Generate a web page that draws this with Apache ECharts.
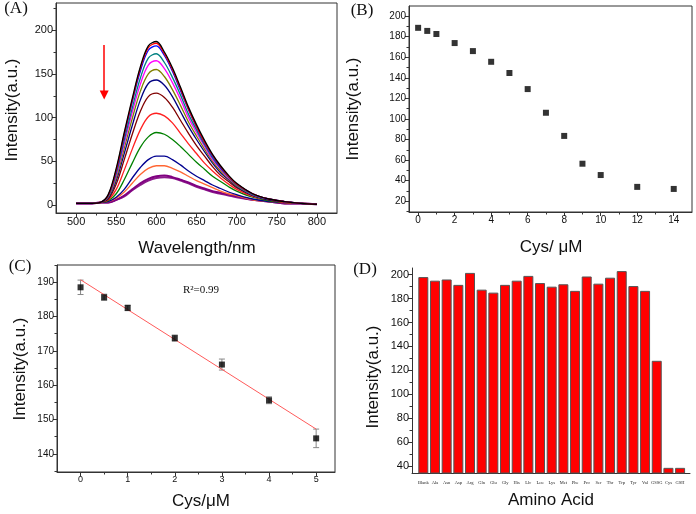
<!DOCTYPE html>
<html>
<head>
<meta charset="utf-8">
<script src="https://cdn.jsdelivr.net/npm/echarts@6/dist/echarts.min.js"></script>
<style>
  html, body { margin: 0; padding: 0; background: #fff; }
  #chart { width: 696px; height: 514px; }
</style>
</head>
<body>
<div id="chart"></div>
<script>
// (A) emission spectra, one array per Cys concentration
const wavelengths = [500, 520, 530, 540, 550, 560, 570, 580, 590, 600, 610, 620, 630, 640, 650, 660, 670, 680, 690, 700, 720, 740, 760, 780, 800];
const spectra = [
  [2, 2, 3, 12, 42, 83, 122, 158, 182, 187, 175, 157, 135, 112, 92, 74, 58, 45, 34, 25, 13, 7, 4, 2, 1],
  [2, 2, 3, 11, 40, 81, 120, 156, 180, 185, 173, 155, 133, 110, 90, 72, 57, 44, 33, 24, 13, 7, 4, 2, 1],
  [2, 2, 3, 11, 39, 79, 118, 153, 177, 182, 171, 153, 131, 109, 89, 71, 56, 43, 33, 24, 13, 7, 4, 2, 1],
  [2, 2, 3, 10, 36, 74, 111, 145, 168, 173, 163, 146, 126, 104, 86, 69, 54, 42, 32, 23, 12, 7, 4, 2, 1],
  [2, 2, 3, 10, 34, 70, 106, 138, 160, 165, 156, 140, 121, 100, 83, 67, 52, 41, 31, 23, 12, 7, 4, 2, 1],
  [2, 2, 3, 9, 31, 65, 99, 130, 150, 155, 147, 132, 114, 95, 79, 64, 50, 39, 30, 22, 12, 7, 4, 2, 1],
  [2, 2, 3, 8, 28, 59, 91, 120, 139, 143, 137, 124, 107, 90, 75, 61, 48, 37, 29, 21, 11, 6, 4, 2, 1],
  [2, 2, 3, 7, 24, 52, 81, 107, 124, 128, 123, 112, 97, 82, 68, 56, 44, 34, 27, 20, 11, 6, 4, 2, 1],
  [2, 2, 3, 6, 18, 40, 64, 86, 101, 105, 102, 94, 82, 70, 59, 48, 39, 31, 24, 18, 10, 6, 3, 2, 1],
  [2, 2, 3, 5, 13, 29, 48, 66, 78, 83, 81, 75, 67, 58, 49, 41, 33, 27, 21, 16, 9, 5, 3, 2, 1],
  [2, 2, 3, 4, 9, 18, 31, 43, 52, 56, 56, 52, 46, 39, 33, 28, 23, 19, 15, 12, 7, 4, 3, 2, 1],
  [2, 2, 3, 4, 8, 15, 25, 35, 42, 45, 45, 42, 38, 33, 28, 24, 20, 16, 13, 11, 6, 4, 3, 2, 1],
  [2, 2, 3, 3, 6, 11, 18, 25, 30, 33, 34, 32, 29, 26, 22, 19, 16, 14, 12, 10, 6, 4, 2, 2, 1],
  [2, 2, 3, 3, 6, 10, 17, 23, 28, 31, 32, 31, 28, 25, 21, 18, 15, 13, 11, 9, 6, 4, 2, 2, 1]
];
const spectrumColors = ['#000000', '#ff0000', '#0000ff', '#008080', '#ff00ff', '#808000', '#000080', '#800000',
  '#ff2020', '#008000', '#000090', '#ff6633', '#800080', '#8b1a8b'];

// (B) intensity vs Cys
const cysConc = [0, 0.5, 1, 2, 3, 4, 5, 6, 7, 8, 9, 10, 12, 14];
const cysIntensity = [188.5, 185.5, 182.5, 173.7, 165.9, 155.5, 144.6, 129, 106, 83.5, 56.5, 45.5, 34, 32];

// (C) linear range with error bars and fit
const linConc = [0, 0.5, 1, 2, 3, 4, 5];
const linIntensity = [188.5, 185.6, 182.5, 173.7, 166, 155.6, 144.5];
const linError = [2.1, 0.9, 0.8, 0.9, 1.6, 1.0, 2.7];
const fitConc = [0, 5];
const fitIntensity = [190.7, 147.2];

// (D) selectivity
const aminoAcids = ['Blank', 'Ala', 'Asn', 'Asp', 'Arg', 'Gln', 'Glu', 'Gly', 'His', 'Llc', 'Leu', 'Lys',
  'Met', 'Phe', 'Pro', 'Ser', 'Thr', 'Trp', 'Tyr', 'Val', 'GSSG', 'Cys', 'GSH'];
const aminoIntensity = [198, 195, 196, 191.5, 201.5, 187.5, 185, 191.5, 195, 199, 193, 190, 192,
  186.5, 198.5, 192.5, 197.5, 203, 190.5, 186.5, 128, 38.5, 38.5];

// tick values
const ticksAx = [500, 550, 600, 650, 700, 750, 800];
const minorAx = [525, 575, 625, 675, 725, 775];
const ticksAy = [0, 50, 100, 150, 200];
const minorAy = [25, 75, 125, 175, 225];
const ticksBx = [0, 2, 4, 6, 8, 10, 12, 14];
const minorBx = [1, 3, 5, 7, 9, 11, 13];
const ticksBy = [20, 40, 60, 80, 100, 120, 140, 160, 180, 200];
const minorBy = [10, 30, 50, 70, 90, 110, 130, 150, 170, 190];
const ticksCx = [0, 1, 2, 3, 4, 5];
const minorCx = [0.5, 1.5, 2.5, 3.5, 4.5];
const ticksCy = [140, 150, 160, 170, 180, 190];
const minorCy = [135, 145, 155, 165, 175, 185, 195];
const ticksDy = [40, 60, 80, 100, 120, 140, 160, 180, 200];
const minorDy = [50, 70, 90, 110, 130, 150, 170, 190];

const SANS = 'Liberation Sans';
const SERIF = 'Liberation Serif';
const AXIS_COLOR = '#333';

function major(gridIndex, min, max, ticks, fontSize, position) {
  return {
    type: 'value', gridIndex, min, max, position,
    splitLine: { show: false },
    axisLine: { show: true, onZero: false, lineStyle: { color: AXIS_COLOR, width: 1 } },
    axisTick: { customValues: ticks, length: 4, lineStyle: { color: AXIS_COLOR } },
    axisLabel: { customValues: ticks, fontSize, fontFamily: SANS, color: '#111', margin: 3 }
  };
}
function minor(gridIndex, min, max, ticks, position) {
  return {
    type: 'value', gridIndex, min, max, position, offset: 0,
    splitLine: { show: false },
    axisLine: { show: false, onZero: false },
    axisLabel: { show: false },
    axisTick: { customValues: ticks, length: 2.5, lineStyle: { color: AXIS_COLOR } }
  };
}
function frame(left, top, width, height) {
  return { left, top, width, height, show: true, borderColor: AXIS_COLOR, borderWidth: 1 };
}
function label(text, x, y, size, family, rotate) {
  return {
    type: 'text', x, y, rotation: rotate ? Math.PI / 2 : 0,
    style: { text, fill: '#111', font: size + 'px "' + family + '"', textAlign: 'center', textVerticalAlign: 'middle' }
  };
}

const chart = echarts.init(document.getElementById('chart'));

const dAxisX = {
  type: 'value', gridIndex: 3, min: -0.97, max: 22.85, position: 'bottom',
  splitLine: { show: false },
  axisLine: { show: true, onZero: false, lineStyle: { color: AXIS_COLOR } },
  axisTick: { show: false },
  axisLabel: {
    customValues: aminoAcids.map((n, i) => i),
    formatter: v => aminoAcids[v] || '',
    fontSize: 4.5, fontFamily: SERIF, color: '#222', margin: 7
  }
};

const spectraSeries = spectra.map((d, i) => ({
  type: 'line', xAxisIndex: 0, yAxisIndex: 0,
  data: wavelengths.map((w, j) => [w, d[j]]),
  smooth: 0.35, showSymbol: false, z: 20 - i,
  lineStyle: { color: spectrumColors[i], width: i >= 12 ? 2 : 1.3 }
}));
spectraSeries[0].markLine = {
  silent: true, animation: false,
  symbol: ['none', 'triangle'], symbolSize: 9,
  label: { show: false },
  lineStyle: { color: '#ff0000', width: 1.5, type: 'solid' },
  data: [[{ coord: [535, 183] }, { coord: [535, 126] }]]
};

chart.setOption({
  animation: false,
  grid: [
    frame(56, 3, 281, 210),
    frame(409, 6, 283, 206),
    frame(57, 265, 278, 207),
    { left: 412, top: 268, width: 278, height: 205, show: false }
  ],
  xAxis: [
    major(0, 475, 825, ticksAx, 11, 'bottom'), minor(0, 475, 825, minorAx, 'bottom'),
    major(1, -0.5, 15, ticksBx, 10, 'bottom'), minor(1, -0.5, 15, minorBx, 'bottom'),
    major(2, -0.5, 5.4, ticksCx, 9, 'bottom'), minor(2, -0.5, 5.4, minorCx, 'bottom'),
    dAxisX
  ],
  yAxis: [
    major(0, -9, 231, ticksAy, 11, 'left'), minor(0, -9, 231, minorAy, 'left'),
    major(1, 9.6, 209.7, ticksBy, 10, 'left'), minor(1, 9.6, 209.7, minorBy, 'left'),
    major(2, 134.7, 195, ticksCy, 10, 'left'), minor(2, 134.7, 195, minorCy, 'left'),
    major(3, 34.2, 205.6, ticksDy, 11, 'left'), minor(3, 34.2, 205.6, minorDy, 'left')
  ],
  series: [
    ...spectraSeries,
    {
      type: 'scatter', xAxisIndex: 2, yAxisIndex: 2,
      data: cysConc.map((c, i) => [c, cysIntensity[i]]),
      symbol: 'rect', symbolSize: 6, itemStyle: { color: '#000' }
    },
    {
      type: 'line', xAxisIndex: 4, yAxisIndex: 4,
      data: fitConc.map((c, i) => [c, fitIntensity[i]]),
      showSymbol: false, lineStyle: { color: '#ff5a5a', width: 1 }
    },
    {
      type: 'custom', xAxisIndex: 4, yAxisIndex: 4,
      data: linConc.map((c, i) => [c, linIntensity[i], linError[i]]),
      renderItem: (params, api) => {
        const x = api.value(0), y = api.value(1), e = api.value(2);
        const top = api.coord([x, y + e]);
        const bot = api.coord([x, y - e]);
        const st = { stroke: '#888', lineWidth: 1 };
        return {
          type: 'group', children: [
            { type: 'line', shape: { x1: top[0], y1: top[1], x2: bot[0], y2: bot[1] }, style: st },
            { type: 'line', shape: { x1: top[0] - 3, y1: top[1], x2: top[0] + 3, y2: top[1] }, style: st },
            { type: 'line', shape: { x1: bot[0] - 3, y1: bot[1], x2: bot[0] + 3, y2: bot[1] }, style: st }
          ]
        };
      }
    },
    {
      type: 'scatter', xAxisIndex: 4, yAxisIndex: 4,
      data: linConc.map((c, i) => [c, linIntensity[i]]),
      symbol: 'rect', symbolSize: 6, itemStyle: { color: '#000' }, z: 5
    },
    {
      type: 'bar', xAxisIndex: 6, yAxisIndex: 6,
      data: aminoAcids.map((n, i) => [i, aminoIntensity[i]]),
      barWidth: 10,
      itemStyle: { color: '#ff0000', borderColor: '#555', borderWidth: 1 }
    }
  ],
  graphic: [
    label('(A)', 16, 9, 17, SERIF),
    label('(B)', 362, 11, 17, SERIF),
    label('(C)', 20, 267, 17, SERIF),
    label('(D)', 365, 270, 17, SERIF),
    label('Intensity(a.u.)', 12, 110, 17, SANS, true),
    label('Wavelength/nm', 197, 248, 17, SANS),
    label('Intensity(a.u.)', 353, 109, 17, SANS, true),
    label('Cys/ \u03bcM', 551, 247, 17, SANS),
    label('Intensity(a.u.)', 20, 369, 17, SANS, true),
    label('Cys/\u03bcM', 201, 501, 17, SANS),
    label('Intensity(a.u.)', 373, 377, 17, SANS, true),
    label('Amino Acid', 551, 500, 17, SANS),
    label('R\u00b2=0.99', 201, 290, 11, SERIF)
  ]
});
</script>
</body>
</html>
